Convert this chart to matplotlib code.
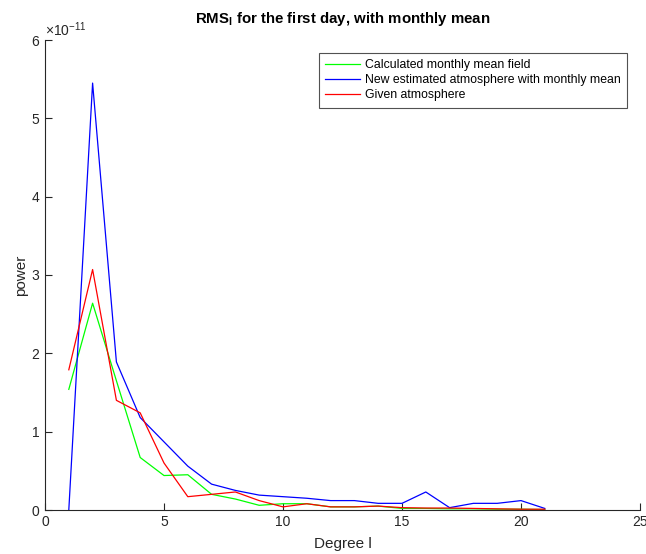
import matplotlib
matplotlib.use("Agg")
import matplotlib.pyplot as plt
import numpy as np

plt.rcParams['font.family'] = ['Liberation Sans', 'DejaVu Sans']
plt.rcParams['mathtext.fontset'] = 'custom'
plt.rcParams['mathtext.rm'] = 'Liberation Sans'
plt.rcParams['mathtext.bf'] = 'Liberation Sans:bold'

# Spherical harmonic degree
degree = list(range(1, 22))

# RMS power per degree
monthly_mean = [1.54e-11, 2.64e-11, 1.65e-11, 0.67e-11, 0.44e-11, 0.45e-11, 0.20e-11,
                0.14e-11, 0.06e-11, 0.08e-11, 0.08e-11, 0.04e-11, 0.04e-11, 0.05e-11,
                0.02e-11, 0.02e-11, 0.015e-11, 0.015e-11, 0.01e-11, 0.01e-11, 0.005e-11]
new_estimate = [0.0, 5.45e-11, 1.89e-11, 1.18e-11, 0.87e-11, 0.56e-11, 0.33e-11,
                0.25e-11, 0.19e-11, 0.17e-11, 0.15e-11, 0.12e-11, 0.12e-11, 0.085e-11,
                0.085e-11, 0.23e-11, 0.03e-11, 0.085e-11, 0.085e-11, 0.12e-11, 0.02e-11]
given_atm = [1.79e-11, 3.07e-11, 1.40e-11, 1.24e-11, 0.60e-11, 0.17e-11, 0.20e-11,
             0.23e-11, 0.12e-11, 0.04e-11, 0.08e-11, 0.04e-11, 0.04e-11, 0.05e-11,
             0.03e-11, 0.025e-11, 0.025e-11, 0.02e-11, 0.015e-11, 0.01e-11, 0.01e-11]

labels = ["Calculated monthly mean field",
          "New estimated atmosphere with monthly mean",
          "Given atmosphere"]
xticks = [0, 5, 10, 15, 20, 25]
yticks = [0, 1e-11, 2e-11, 3e-11, 4e-11, 5e-11, 6e-11]

fig = plt.figure(figsize=(6.46, 5.54), dpi=100)
ax = fig.add_axes([45/646, 44/554, 595/646, 470/554])

ax.plot(degree, monthly_mean, color='#00ff00', lw=0.9, label=labels[0])
ax.plot(degree, new_estimate, color='#0000ff', lw=0.9, label=labels[1])
ax.plot(degree, given_atm, color='#ff0000', lw=0.9, label=labels[2])

ax.set_xlim(0, 25)
ax.set_ylim(0, 6e-11)
ax.set_xticks(xticks)
ax.set_yticks(yticks)
ax.ticklabel_format(axis='y', style='sci', scilimits=(0, 0), useMathText=True)
ax.yaxis.get_offset_text().set_fontsize(10)
ax.yaxis.get_offset_text().set_color('#262626')

for s in ['top', 'right']:
    ax.spines[s].set_visible(False)
ax.spines['left'].set_color('#262626')
ax.spines['bottom'].set_color('#262626')
ax.spines['left'].set_linewidth(0.8)
ax.spines['bottom'].set_linewidth(0.8)
ax.tick_params(direction='in', length=5, width=0.8, colors='#262626',
               labelsize=10, labelcolor='#262626')

ax.set_xlabel('Degree l', fontsize=11, color='#262626', labelpad=6)
ax.set_ylabel('power', fontsize=11, color='#262626', labelpad=2)
ax.set_title(r'RMS$_{\mathbf{l}}$ for the first day, with monthly mean',
             fontsize=10.8, fontweight='bold', pad=12)

leg = ax.legend(loc='upper right', bbox_to_anchor=(582/595, 457/470),
                fontsize=8.8, frameon=True, fancybox=False,
                handlelength=2.9, handletextpad=0.4, borderpad=0.5,
                labelspacing=0.26, borderaxespad=0)
leg.get_frame().set_edgecolor('#262626')
leg.get_frame().set_linewidth(0.8)

fig.savefig('out.png', dpi=100)
